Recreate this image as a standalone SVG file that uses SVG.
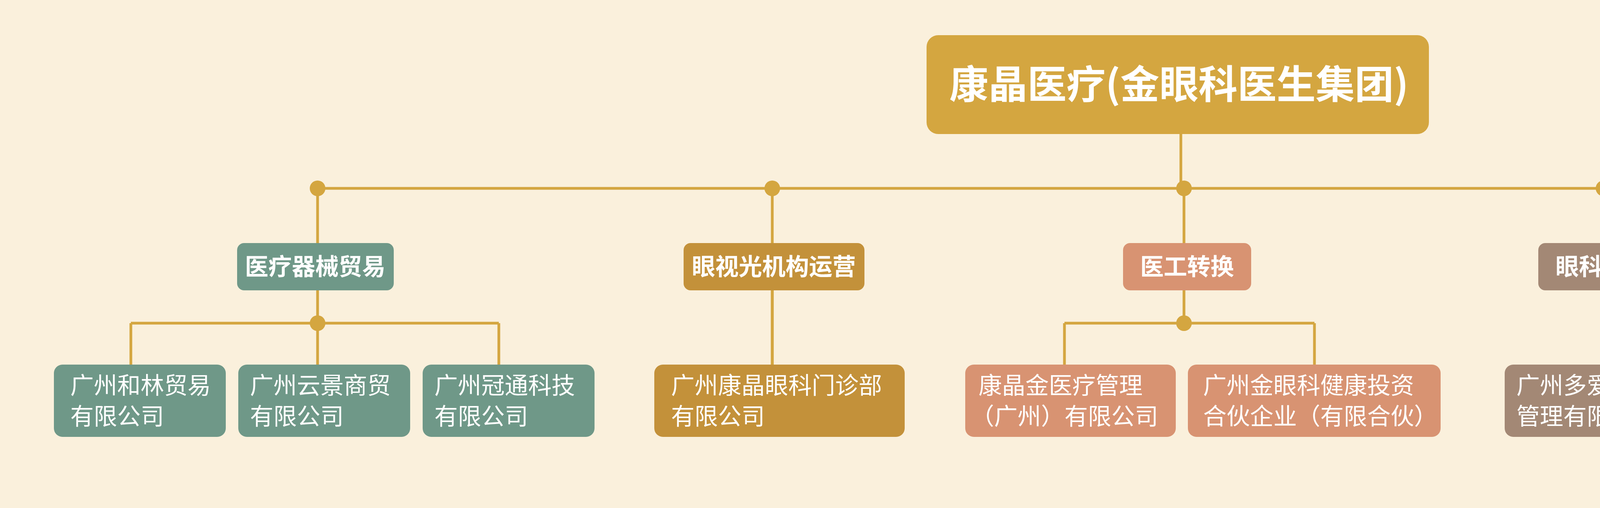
<svg xmlns="http://www.w3.org/2000/svg" width="5938" height="1300" viewBox="0 0 5938 1300">
<style>
.ln{stroke:#D4A640;stroke-width:7;fill:none}
.dot{fill:#D4A640}
text{font-family:"Noto Sans CJK SC","Noto Sans",sans-serif;fill:#fff}
.t1{font-size:100px;font-weight:bold;text-anchor:middle}
.t2{font-size:60px;font-weight:bold;text-anchor:middle}
.t3{font-size:60px}
.teal{fill:#6F9888}.ochre{fill:#C3913A}.salmon{fill:#D89372}.brown{fill:#A38875}.tan{fill:#C9A062}
</style>
<rect width="5938" height="1300" fill="#FAF0DC"/>
<g id="connectors">
<path class="ln" d="M3023 341V482M813 482H5457M813 482V622M1977 482V933M3031 482V622M4105 482V622M4785 482V622M5457 482V622"/>
<path class="ln" d="M813 743V933M335 827H1277M335 827V933M1277 827V933M1977 743V933"/>
<path class="ln" d="M3031 743V827M2725 827H3365M2725 827V933M3365 827V933M4105 743V933M4785 743V933M5457 743V933"/>
<circle class="dot" cx="813" cy="482" r="20"/><circle class="dot" cx="1977" cy="482" r="20"/><circle class="dot" cx="3031" cy="482" r="20"/><circle class="dot" cx="4105" cy="482" r="20"/><circle class="dot" cx="4785" cy="482" r="20"/><circle class="dot" cx="5457" cy="482" r="20"/>
<circle class="dot" cx="813" cy="827" r="20"/><circle class="dot" cx="3031" cy="827" r="20"/>
</g>
<g id="root"><rect x="2372" y="90" width="1286" height="253" rx="30" fill="#D4A640"/><text class="t1" x="3018" y="252">康晶医疗(金眼科医生集团)</text></g>
<g id="n1"><rect class="teal" x="607" y="622" width="401" height="121" rx="18"/><text class="t2" x="807" y="704">医疗器械贸易</text></g>
<g id="n2"><rect class="ochre" x="1750" y="622" width="463" height="121" rx="18"/><text class="t2" x="1981" y="704">眼视光机构运营</text></g>
<g id="n3"><rect class="salmon" x="2875" y="622" width="328" height="121" rx="18"/><text class="t2" x="3039" y="704">医工转换</text></g>
<g id="n4"><rect class="brown" x="3938" y="622" width="328" height="121" rx="18"/><text class="t2" x="4102" y="704">眼科科普</text></g>
<g id="n5"><rect class="teal" x="4623" y="622" width="328" height="121" rx="18"/><text class="t2" x="4787" y="704">教培中心</text></g>
<g id="n6"><rect class="tan" x="5305" y="622" width="327" height="121" rx="18"/><text class="t2" x="5468" y="704">大健康运营</text></g>
<g id="c1"><rect class="teal" x="138" y="933" width="440" height="185" rx="22"/><text class="t3" x="180" y="1008">广州和林贸易</text><text class="t3" x="180" y="1087">有限公司</text></g>
<g id="c2"><rect class="teal" x="610" y="933" width="440" height="185" rx="22"/><text class="t3" x="640" y="1008">广州云景商贸</text><text class="t3" x="640" y="1087">有限公司</text></g>
<g id="c3"><rect class="teal" x="1082" y="933" width="440" height="185" rx="22"/><text class="t3" x="1112" y="1008">广州冠通科技</text><text class="t3" x="1112" y="1087">有限公司</text></g>
<g id="c4"><rect class="ochre" x="1675" y="933" width="641" height="185" rx="22"/><text class="t3" x="1718" y="1008">广州康晶眼科门诊部</text><text class="t3" x="1718" y="1087">有限公司</text></g>
<g id="c5"><rect class="salmon" x="2471" y="933" width="539" height="185" rx="22"/><text class="t3" x="2505" y="1008">康晶金医疗管理</text><text class="t3" x="2485" y="1087">（广州）有限公司</text></g>
<g id="c6"><rect class="salmon" x="3041" y="933" width="647" height="185" rx="22"/><text class="t3" x="3080" y="1008">广州金眼科健康投资</text><text class="t3" x="3080" y="1087">合伙企业（有限合伙）</text></g>
<g id="c7"><rect class="brown" x="3852" y="933" width="540" height="185" rx="22"/><text class="t3" x="3882" y="1008">广州多爱国际医疗</text><text class="t3" x="3882" y="1087">管理有限公司</text></g>
<g id="c8"><rect class="teal" x="4530" y="933" width="539" height="185" rx="22"/><text class="t3" x="4560" y="1008">广州多爱国际医疗</text><text class="t3" x="4560" y="1087">管理有限公司</text></g>
<g id="c9"><rect class="tan" x="5207" y="933" width="540" height="185" rx="22"/><text class="t3" x="5268" y="1008">广州康洲大健康</text><text class="t3" x="5268" y="1087">发展有限公司</text></g>
</svg>
